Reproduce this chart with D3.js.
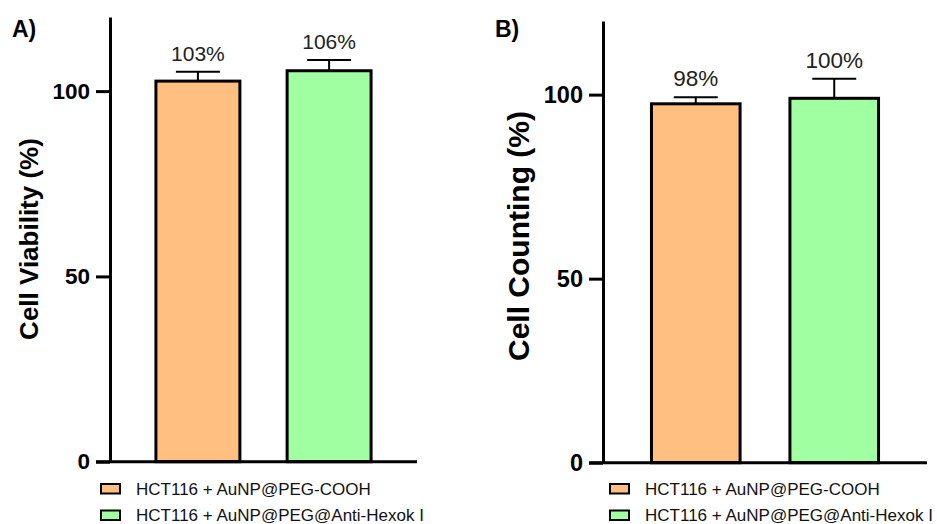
<!DOCTYPE html>
<html><head><meta charset="utf-8">
<script src="https://cdn.jsdelivr.net/npm/d3@7"></script>
<style>body{margin:0;background:#fff}svg{display:block}text{font-family:"Liberation Sans",Arial,sans-serif}</style>
</head><body>
<svg id="chart" width="937" height="524"></svg>
<script>
const categories = ["HCT116 + AuNP@PEG-COOH", "HCT116 + AuNP@PEG@Anti-Hexok I"];
const colors = ["#FFBF80", "#A0FFA0"];
const viabilityMeans = [102.7, 105.5];
const viabilitySD = [2.5, 2.9];
const viabilityLabels = ["103%", "106%"];
const countingMeans = [97.5, 99.0];
const countingSD = [1.8, 5.3];
const countingLabels = ["98%", "100%"];
const yTicks = [0, 50, 100];

const svg = d3.select("#chart");

function panel(o) {
  const g = svg.append("g");
  const y = d3.scaleLinear().domain([0, 120]).range([o.y0, o.y1]);
  const x = d3.scaleBand().domain(categories).range([o.x0, o.x1]).paddingInner(0.36).paddingOuter(0.35);

  // bars
  g.selectAll("rect.bar").data(categories).join("rect")
    .attr("x", d => x(d)).attr("width", x.bandwidth())
    .attr("y", (d, i) => y(o.means[i])).attr("height", (d, i) => y(0) - y(o.means[i]))
    .attr("fill", (d, i) => colors[i]).attr("stroke", "#000").attr("stroke-width", 3);

  // error bars (upper only)
  categories.forEach((c, i) => {
    const cx = x(c) + x.bandwidth() / 2;
    const top = y(o.means[i] + o.sd[i]);
    g.append("line").attr("x1", cx).attr("x2", cx).attr("y1", y(o.means[i])).attr("y2", top)
      .attr("stroke", "#000").attr("stroke-width", 2);
    g.append("line").attr("x1", cx - 22).attr("x2", cx + 22).attr("y1", top).attr("y2", top)
      .attr("stroke", "#000").attr("stroke-width", 2);
    g.append("text").attr("x", cx).attr("y", top - 11).attr("text-anchor", "middle")
      .attr("font-size", o.labelSize).attr("fill", "#222").text(o.labels[i]);
  });

  // y axis
  const ax = g.append("g").attr("transform", `translate(${o.x0},0)`)
    .call(d3.axisLeft(y).tickValues(yTicks).tickSize(14).tickPadding(6).tickSizeOuter(0));
  ax.select(".domain").attr("stroke-width", 3);
  ax.selectAll(".tick line").attr("stroke-width", 3);
  ax.selectAll(".tick text").attr("font-size", o.tickSize).attr("font-weight", "bold")
    .attr("fill", "#000").style("font-family", '"Liberation Sans",Arial,sans-serif');

  // x axis baseline
  g.append("line").attr("x1", o.x0 - 14).attr("x2", o.x1).attr("y1", y(0)).attr("y2", y(0))
    .attr("stroke", "#000").attr("stroke-width", 3);

  // y title
  g.append("text").attr("transform", `translate(${o.titleX},${o.titleY}) rotate(-90)`)
    .attr("text-anchor", "middle").attr("dominant-baseline", "central")
    .attr("font-size", o.titleSize).attr("font-weight", "bold").text(o.title);

  // panel letter
  g.append("text").attr("x", o.letterX).attr("y", 37).attr("font-size", 23)
    .attr("font-weight", "bold").text(o.letter);

  // legend
  categories.forEach((c, i) => {
    const ly = 484 + i * 26.5;
    g.append("rect").attr("x", o.legX).attr("y", ly).attr("width", 19).attr("height", 9.5)
      .attr("fill", colors[i]).attr("stroke", "#000").attr("stroke-width", 2);
    g.append("text").attr("x", o.legX + 35).attr("y", ly + 10.5).attr("font-size", 17)
      .attr("fill", "#111").text(c);
  });
}

panel({x0: 110, x1: 417, y0: 461.7, y1: 17, means: viabilityMeans, sd: viabilitySD, labels: viabilityLabels,
  labelSize: 21, tickSize: 22.5, title: "Cell Viability (%)", titleX: 29, titleY: 239, titleSize: 26,
  letter: "A)", letterX: 12, legX: 101});
panel({x0: 603, x1: 927, y0: 462.7, y1: 21, means: countingMeans, sd: countingSD, labels: countingLabels,
  labelSize: 22.5, tickSize: 23.5, title: "Cell Counting (%)", titleX: 518, titleY: 236, titleSize: 30,
  letter: "B)", letterX: 495, legX: 610});
</script>
</body></html>
